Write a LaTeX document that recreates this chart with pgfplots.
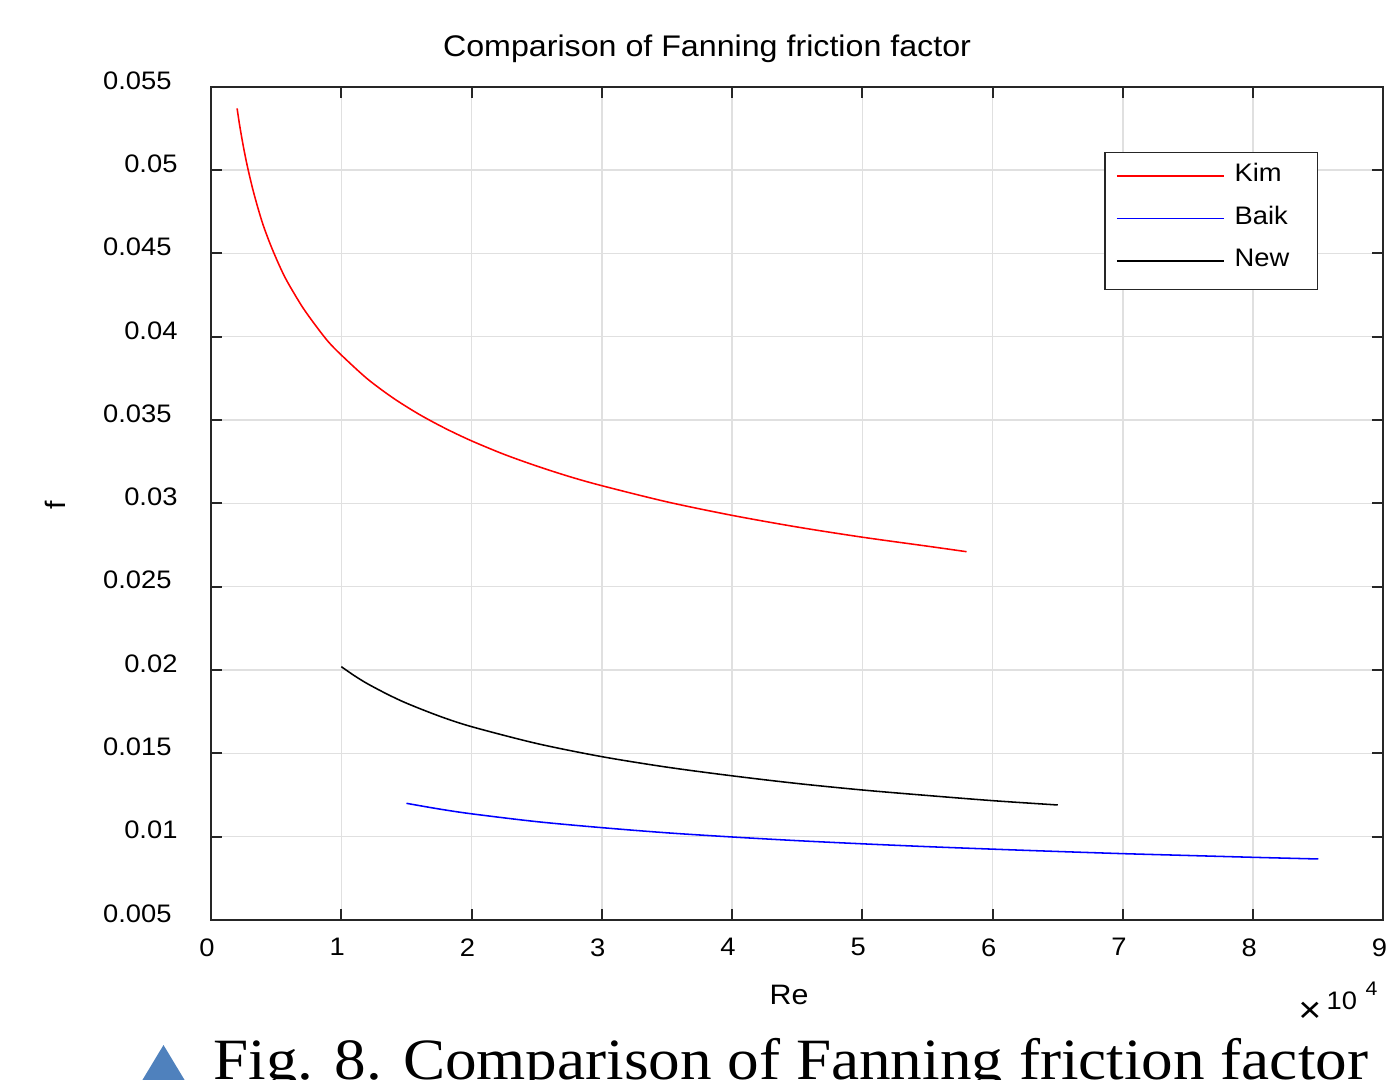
\documentclass[border=0pt]{standalone}
\usepackage{pgfplots}
\pgfplotsset{compat=1.18}
\usepackage{fontspec}
\setmainfont{Liberation Sans}[FakeStretch=1.08]
\newfontfamily\capfont{Liberation Serif}[FakeStretch=1.08]

\definecolor{axgray}{RGB}{38,38,38}
\definecolor{gridgray}{RGB}{224,224,224}
\definecolor{tri}{RGB}{79,129,189}

\begin{document}
\begin{tikzpicture}[x=0.0125cm,y=0.0125cm]
\useasboundingbox (0,0) rectangle (1388,1079);
\clip (0,0) rectangle (1388,1079);
\begin{axis}[
  at={(2.6375cm,1.9875cm)}, anchor=south west,
  scale only axis, width=14.65cm, height=10.4125cm,
  xmin=0, xmax=9, ymin=0.005, ymax=0.055,
  xtick={0,1,...,9},
  ytick={0.005,0.01,0.015,0.02,0.025,0.03,0.035,0.04,0.045,0.05,0.055},
  yticklabels={0.005\kern0.075cm,0.01,0.015\kern0.075cm,0.02,0.025\kern0.075cm,0.03,
               0.035\kern0.075cm,0.04,0.045\kern0.075cm,0.05,0.055\kern0.075cm},
  scaled y ticks=false,
  /pgf/number format/assume math mode=true,
  tick label style={font=\fontsize{9}{11}\selectfont},
  yticklabel style={anchor=east, inner sep=0pt, xshift=-0.4125cm, yshift=0.08cm},
  xticklabel style={anchor=north, inner sep=0pt, yshift=-0.225cm, xshift=-0.05cm},
  tick align=inside, major tick length=0.1375cm,
  tick style={axgray, line width=0.7pt},
  axis line style={axgray, line width=0.7pt},
  grid=major, major grid style={gridgray, line width=0.5pt},
  legend style={at={(rel axis cs:0.9445,0.922)}, anchor=north east,
    draw=axgray, line width=0.5pt, inner xsep=0.1375cm, inner ysep=0.135cm,
    row sep=0.15cm, column sep=0.125cm,
    font=\fontsize{9}{11}\selectfont,
    nodes={inner sep=0pt, text height=0.23cm, text depth=0.15cm}},
  legend cell align=left,
  legend image code/.code={\draw[#1] (0cm,0.03cm) -- (1.3375cm,0.03cm);},
]
% Kim
\addplot[red, line width=0.55pt, smooth] coordinates {
  (0.2,0.0537) (0.22,0.05266) (0.25,0.05133) (0.28,0.05018) (0.32,0.04886)
  (0.36,0.04772) (0.4,0.0467) (0.45,0.04564) (0.5,0.0447) (0.55,0.04384)
  (0.6,0.0431) (0.7,0.0418) (0.8,0.0407) (0.9,0.0397) (1.0,0.0389)
  (1.2,0.03747) (1.4,0.03631) (1.6,0.03533) (1.8,0.03449) (2.0,0.03375)
  (2.25,0.03294) (2.5,0.03224) (2.75,0.03161) (3.0,0.03106) (3.5,0.03009)
  (4.0,0.02928) (4.5,0.02858) (5.0,0.02797) (5.5,0.02743) (5.8,0.0271)
};
\addlegendentry{\makebox[0.9cm][l]{Kim}}
% Baik
\addplot[blue, line width=0.55pt, smooth] coordinates {
  (1.5,0.0120) (1.75,0.01166) (2.0,0.01137) (2.5,0.0109) (3.0,0.01054)
  (3.5,0.01023) (4.0,0.00998) (4.5,0.00976) (5.0,0.00957) (5.5,0.0094)
  (6.0,0.00925) (6.5,0.00911) (7.0,0.00898) (7.5,0.00887) (8.0,0.00876)
  (8.5,0.00866)
};
\addlegendentry{\makebox[0.9cm][l]{Baik}}
% New
\addplot[black, line width=0.55pt, smooth] coordinates {
  (1.0,0.0202) (1.1,0.01966) (1.2,0.01918) (1.35,0.01856) (1.5,0.01801)
  (1.75,0.01724) (2.0,0.0166) (2.5,0.01559) (3.0,0.0148) (3.5,0.01417)
  (4.0,0.01365) (4.5,0.01319) (5.0,0.0128) (5.5,0.01247) (6.0,0.01216)
  (6.5,0.0119)
};
\addlegendentry{\makebox[0.9cm][l]{New}}
\end{axis}
% title, axis labels, exponent
\node[anchor=base, inner sep=0pt, font=\fontsize{10.6}{12}\selectfont] at (707,1022) {Comparison of Fanning friction factor};
\node[anchor=base, inner sep=0pt, font=\fontsize{10}{12}\selectfont] at (789,75) {Re};
\node[rotate=90, inner sep=0pt, font=\fontsize{10}{12}\selectfont] at (55,574) {f};
\node[inner sep=0pt, font=\fontsize{13}{15}\selectfont] at (1310,67) {×};
\node[anchor=base west, inner sep=0pt, font=\fontsize{9}{11}\selectfont] at (1326,70) {10};
\node[anchor=base west, inner sep=0pt, font=\fontsize{7}{8}\selectfont] at (1365,84) {4};
% caption below the figure
\fill[tri] (140,-5) -- (187,-5) -- (163.5,34) -- cycle;
\node[anchor=base west, inner sep=0pt, font=\capfont\fontsize{20.8}{24}\selectfont] at (213,0) {Fig. 8. Comparison of Fanning friction factor};
\end{tikzpicture}
\end{document}
